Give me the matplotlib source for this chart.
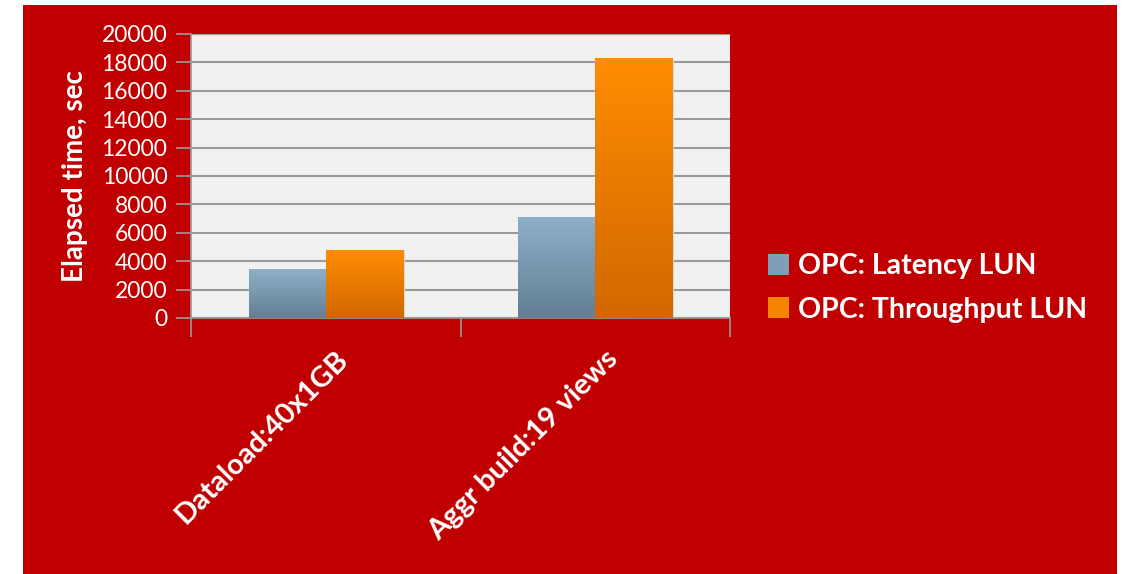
import numpy as np
import matplotlib
matplotlib.use("Agg")
import matplotlib.pyplot as plt
from matplotlib.patches import Rectangle, Patch
from matplotlib.colors import LinearSegmentedColormap
import matplotlib.transforms as mtransforms

plt.rcParams['font.family'] = ['Lato', 'DejaVu Sans']

categories = ["Dataload:40x1GB", "Aggr build:19 views"]
series_names = ["OPC: Latency LUN", "OPC: Throughput LUN"]
latency = [3450, 7100]
throughput = [4780, 18250]
yticks = list(range(0, 20001, 2000))

RED = "#C00000"
GRID = "#9A9A9A"
grads = [("#8DB0C8", "#627F94"), ("#FF8C00", "#D26800")]
legend_cols = ["#7E9FB6", "#F58400"]

fig = plt.figure(figsize=(11.25, 5.74), dpi=100)
fig.patch.set_facecolor("white")
fig.patches.append(Rectangle((23 / 1125, 0), (1117 - 23) / 1125, 1 - 5 / 574,
                             transform=fig.transFigure, facecolor=RED,
                             edgecolor="none", zorder=-10))

ax = fig.add_axes([191 / 1125, 256 / 574, 539 / 1125, 284 / 574])
ax.set_facecolor("#F1F1F1")

x = np.arange(len(categories))
w = 0.286
bars1 = ax.bar(x - w / 2, latency, w, color="none", zorder=3)
bars2 = ax.bar(x + w / 2, throughput, w, color="none", zorder=3)

# gradient fill for bars
for bars, (top, bot) in zip([bars1, bars2], grads):
    cmap = LinearSegmentedColormap.from_list("g", [bot, top])
    for b in bars:
        bx, by = b.get_x(), b.get_y()
        bw, bh = b.get_width(), b.get_height()
        grad = np.linspace(0, 1, 256).reshape(-1, 1)
        im = ax.imshow(grad, cmap=cmap, origin="lower", aspect="auto",
                       extent=[bx, bx + bw, by, by + bh], zorder=3)
        # light shadow on the right
        ax.add_patch(Rectangle((bx + bw, by), 0.008, bh, facecolor="#D8D8D8",
                               edgecolor="none", zorder=2.5))
ax.set_xlim(-0.5, 1.5)
ax.set_ylim(0, 20000)

ax.set_yticks(yticks)
ax.yaxis.grid(True, color=GRID, linewidth=1.5, zorder=1)
ax.set_axisbelow(True)
ax.tick_params(axis="y", colors=GRID, length=11, width=1.2, pad=6,
               labelcolor="white", labelsize=16.5)

ax.set_xticks(x)
ax.set_xticklabels(categories, rotation=45, ha="right", va="top",
                   rotation_mode="default", color="white",
                   fontsize=21, fontweight="bold")
ax.set_xticks([-0.5, 0.5, 1.5], minor=True)
ax.tick_params(axis="x", which="major", length=0, pad=20)
ax.tick_params(axis="x", which="minor", length=14, width=1.2, colors=GRID)
offset = mtransforms.ScaledTranslation(28 / 100, 0, fig.dpi_scale_trans)
for lbl in ax.get_xticklabels():
    lbl.set_transform(lbl.get_transform() + offset)

for s in ["top", "right"]:
    ax.spines[s].set_visible(False)
for s in ["left", "bottom"]:
    ax.spines[s].set_color(GRID)
    ax.spines[s].set_linewidth(1.2)

fig.text(75 / 1125, 1 - 176 / 574, "Elapsed time, sec", rotation=90,
         ha="center", va="center", color="white", fontsize=20,
         fontweight="bold")

handles = [Patch(facecolor=c, edgecolor="none") for c in legend_cols]
leg = fig.legend(handles, series_names, loc="center left",
                 bbox_to_anchor=(742 / 1125, 1 - 288 / 574), frameon=False,
                 handlelength=0.75, handleheight=0.75, handletextpad=0.3,
                 labelspacing=0.62, prop={"size": 20.5, "weight": "bold"})
for t in leg.get_texts():
    t.set_color("white")

fig.savefig("out.png", dpi=100, facecolor=fig.get_facecolor())
